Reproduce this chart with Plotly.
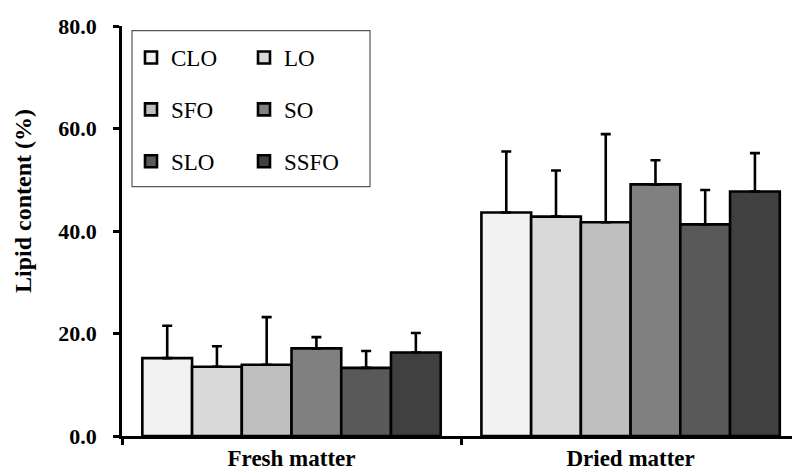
import plotly.graph_objects as go

categories = ["Fresh matter", "Dried matter"]
series = ["CLO", "LO", "SFO", "SO", "SLO", "SSFO"]
means = {
    "CLO": [15.2, 43.6],
    "LO": [13.5, 42.8],
    "SFO": [13.9, 41.7],
    "SO": [17.1, 49.1],
    "SLO": [13.3, 41.3],
    "SSFO": [16.3, 47.7],
}
errors = {
    "CLO": [6.3, 11.9],
    "LO": [4.0, 9.0],
    "SFO": [9.3, 17.2],
    "SO": [2.2, 4.7],
    "SLO": [3.3, 6.7],
    "SSFO": [3.8, 7.5],
}
colors = ["#f2f2f2", "#d9d9d9", "#bfbfbf", "#808080", "#595959", "#404040"]
y_ticks = [0, 20, 40, 60, 80]

FONT = "Liberation Serif, Times New Roman, serif"

fig = go.Figure()
for i, s in enumerate(series):
    fig.add_trace(go.Bar(
        name=s,
        x=categories,
        y=means[s],
        marker=dict(color=colors[i], line=dict(color="black", width=2.6)),
        error_y=dict(type="data", symmetric=False, array=errors[s],
                     arrayminus=[0] * len(errors[s]),
                     color="black", thickness=2.6, width=5),
        legend="legend" if i % 2 == 0 else "legend2",
        legendgroup=s,
    ))

W, H = 792, 473
L, R, T, B = 122, 0, 26, 37
pw, ph = W - L - R, H - T - B

def px_x(x):
    return (x - L) / pw

def px_y(y):
    return (H - B - y) / ph

legend_common = dict(
    bgcolor="rgba(0,0,0,0)", borderwidth=0,
    font=dict(family=FONT, size=23, color="black"),
    tracegroupgap=19, yanchor="top", xanchor="left",
    itemclick=False,
)

fig.update_layout(
    width=W, height=H,
    margin=dict(l=L, r=R, t=T, b=B, autoexpand=False),
    paper_bgcolor="white", plot_bgcolor="white",
    barmode="group", bargap=0.12, bargroupgap=0,
    showlegend=True,
    legend=dict(x=px_x(131), y=px_y(36), **legend_common),
    legend2=dict(x=px_x(244), y=px_y(36), **legend_common),
    xaxis=dict(
        type="category", range=[-0.5, 1.476], automargin=False,
        showline=True, linecolor="black", linewidth=2.6,
        ticks="outside", tickson="boundaries", ticklen=6, tickwidth=2.6,
        tickcolor="black", showgrid=False, zeroline=False,
        ticklabelstandoff=0,
        tickfont=dict(family=FONT, size=23, color="black", weight="bold"),
    ),
    yaxis=dict(
        range=[0, 80], tickvals=y_ticks, tickformat=".1f", automargin=False,
        showline=True, linecolor="black", linewidth=2.6,
        ticks="outside", ticklen=6, tickwidth=2.6, tickcolor="black",
        showgrid=False, zeroline=False, ticklabelstandoff=12,
        tickfont=dict(family=FONT, size=22, color="black", weight="bold"),
    ),
    shapes=[dict(type="rect", xref="paper", yref="paper",
                 x0=px_x(132), x1=px_x(370), y0=px_y(186.7), y1=px_y(30.7),
                 line=dict(color="#555555", width=1.2), fillcolor="rgba(0,0,0,0)")],
    annotations=[dict(text="Lipid content (%)", xref="paper", yref="paper",
                      x=px_x(23), y=px_y(201), textangle=-90, showarrow=False,
                      xanchor="center", yanchor="middle",
                      font=dict(family=FONT, size=24, color="black", weight="bold"))],
)

fig.write_html("out.html")
